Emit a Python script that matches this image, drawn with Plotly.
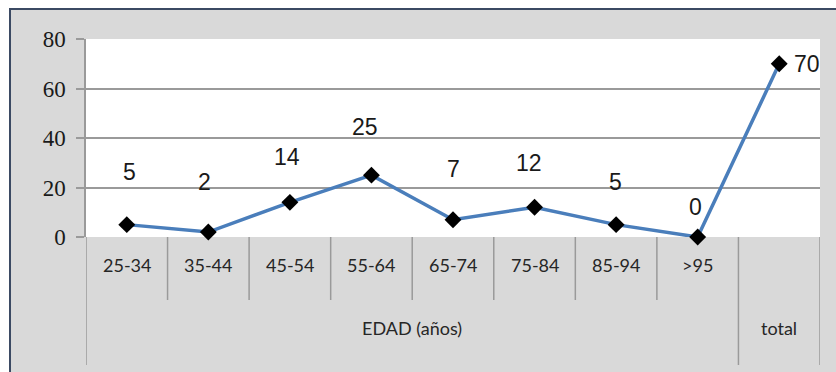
import plotly.graph_objects as go

# ---- data ----
categories = ["25-34", "35-44", "45-54", "55-64", "65-74", "75-84", "85-94", ">95", "total"]
values = [5, 2, 14, 25, 7, 12, 5, 0, 70]
group_labels = ["EDAD (años)", "total"]
group_spans = [(0, 7), (8, 8)]
y_ticks = [0, 20, 40, 60, 80]

# ---- style ----
W, H = 836, 372
PL, PR, PT, PB = 86, 820, 39, 237  # plot area in px
label_dy = [53, 50, 45, 48, 51, 44, 43, 30, 0]
label_dx = [3, -4, -3, -6, 0, -6, -1, -2, 28]

def px_x(x):
    return x / W

def px_y(y):
    return 1 - y / H

fig = go.Figure()
fig.add_trace(go.Scatter(
    x=categories, y=values, mode="lines+markers",
    line=dict(color="#4a7ebb", width=3.5),
    marker=dict(symbol="diamond", size=13, color="black"),
    cliponaxis=False, hoverinfo="skip", showlegend=False,
))

annotations = []
for i, (c, v) in enumerate(zip(categories, values)):
    annotations.append(dict(
        x=c, y=v, xref="x", yref="y", text=str(v), showarrow=False,
        yshift=label_dy[i], xshift=label_dx[i],
        font=dict(family="Liberation Sans Narrow, Liberation Sans, sans-serif", size=23, color="#1a1a1a"),
    ))
# category labels
for c in categories[:-1]:
    annotations.append(dict(
        x=c, y=px_y(278), xref="x", yref="paper", text=c, showarrow=False,
        font=dict(family="Lato, Open Sans, sans-serif", size=18, color="#262626"),
    ))
# group labels
for lab, (a, b) in zip(group_labels, group_spans):
    annotations.append(dict(
        x=(a + b) / 2, y=px_y(341), xref="x", yref="paper", text=lab, showarrow=False,
        font=dict(family="Lato, Open Sans, sans-serif", size=18, color="#262626"),
    ))

shapes = [
    # outer chart area with border
    dict(type="rect", xref="paper", yref="paper", x0=px_x(10), x1=1.05, y0=px_y(9), y1=-0.05,
         fillcolor="#d9d9d9", line=dict(color="#3b4a63", width=2), layer="below"),
    # plot area
    dict(type="rect", xref="paper", yref="paper", x0=px_x(PL), x1=px_x(PR), y0=px_y(PT), y1=px_y(PB),
         fillcolor="white", line=dict(width=0), layer="below"),
]
gray = "#9a9a9a"
for i in range(len(categories)):
    x = i - 0.5
    long_line = (i == 0) or (i == 8)
    shapes.append(dict(type="line", xref="x", yref="paper", x0=x, x1=x,
                       y0=px_y(PB), y1=px_y(365 if long_line else 300),
                       line=dict(color=gray, width=1.5)))
shapes.append(dict(type="line", xref="x", yref="paper", x0=8.5, x1=8.5,
                   y0=px_y(PB), y1=px_y(365), line=dict(color=gray, width=1.5)))

fig.update_layout(
    width=W, height=H,
    margin=dict(l=0, r=0, t=0, b=0, autoexpand=False),
    paper_bgcolor="white", plot_bgcolor="rgba(0,0,0,0)",
    xaxis=dict(domain=[px_x(PL), px_x(PR)], type="category", range=[-0.5, 8.5], automargin=False,
               showticklabels=False, showgrid=False, zeroline=False, showline=False, ticks=""),
    yaxis=dict(domain=[px_y(PB), px_y(PT)], range=[0, 80], tickvals=y_ticks, automargin=False,
               showgrid=True, gridcolor=gray, gridwidth=1.5, zeroline=False,
               showline=True, linecolor=gray, linewidth=1.5,
               ticks="outside", ticklen=8, tickcolor=gray, tickwidth=1.5,
               ticklabelstandoff=6,
               tickfont=dict(family="Liberation Serif, serif", size=23, color="#1a1a1a")),
    annotations=annotations, shapes=shapes,
)

fig.write_html("out.html")
